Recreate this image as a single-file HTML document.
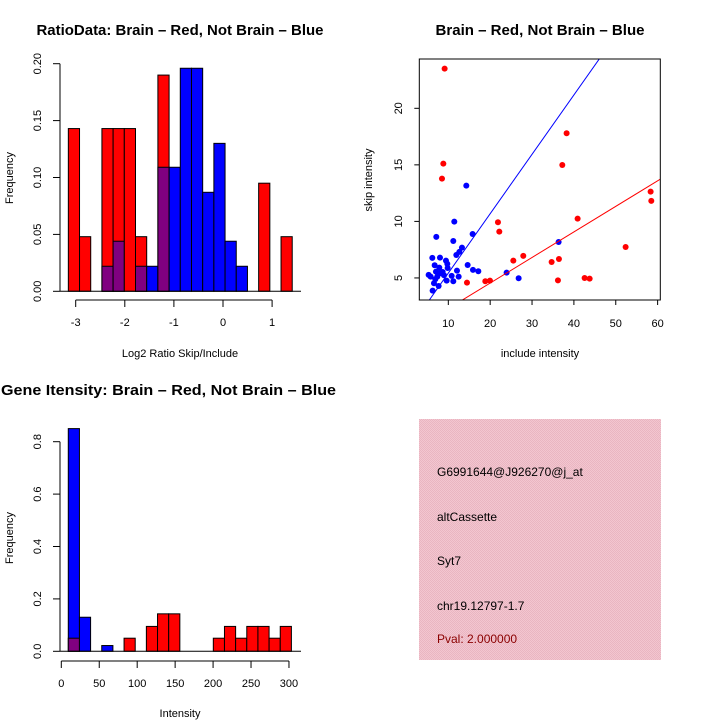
<!DOCTYPE html>
<html><head><meta charset="utf-8"><style>
html,body{margin:0;padding:0;background:#fff;}
svg{display:block;font-family:"Liberation Sans",sans-serif;}
</style></head><body>
<svg id="c" width="720" height="720" viewBox="0 0 720 720">
<defs>
<pattern id="hatch" width="2" height="2" patternUnits="userSpaceOnUse">
<rect width="2" height="2" fill="#f3c6d0"/><rect width="1" height="1" fill="#e9b5c1"/><rect x="1" y="1" width="1" height="1" fill="#e9b5c1"/>
</pattern>
</defs>
<g id="p1"></g>
<g id="p2"></g>
<g id="p3"></g>
<g id="p4">
<rect x="419" y="419" width="242" height="241" fill="url(#hatch)"/>
<text x="437" y="476" font-size="12">G6991644@J926270@j_at</text>
<text x="437" y="521" font-size="12">altCassette</text>
<text x="437" y="565" font-size="12">Syt7</text>
<text x="437" y="610" font-size="12">chr19.12797-1.7</text>
<text x="437" y="643" font-size="12" fill="#8b0000">Pval: 2.000000</text>
</g>
</svg>
<script>
// ---- Histogram 1 data (Log2 ratio) ----
const ratioBinStart = -3.15;
const ratioBinWidth = 0.228;
const ratioRed  = [0.143,0.048,0,0.143,0.143,0.143,0.048,0,0.190,0,0,0,0,0,0,0,0,0.095,0,0.048];
const ratioBlue = [0,0,0,0.022,0.044,0,0.022,0.022,0.109,0.109,0.196,0.196,0.087,0.130,0.044,0.022,0,0,0,0];
const ratioXTicks = [-3,-2,-1,0,1];
const ratioYTicks = [0,0.05,0.10,0.15,0.20];
const ratioYLabels = ["0.00","0.05","0.10","0.15","0.20"];
// ---- Scatter data ----
const redX = [9.12,8.81,8.49,38.26,37.23,21.86,22.18,40.89,58.33,58.49,52.36,36.43,34.68,27.91,25.53,14.46,18.84,19.95,36.19,42.56,43.76];
const redY = [23.51,15.11,13.78,17.79,14.99,9.92,9.10,10.25,12.63,11.81,7.74,6.68,6.41,6.95,6.53,4.59,4.71,4.76,4.79,5.0,4.94];
const blueX = [14.30,11.43,15.81,7.13,11.19,13.26,12.63,11.91,6.18,8.01,9.44,9.76,6.74,14.62,7.85,9.84,15.89,17.17,36.35,12.07,23.93,26.80,5.30,5.78,8.65,8.96,10.80,12.47,11.19,9.60,6.89,6.58,7.69,6.26,7.05,8.01,7.37];
const blueY = [13.16,9.98,8.89,8.63,8.27,7.68,7.30,7.03,6.77,6.80,6.53,6.24,6.12,6.15,5.91,5.88,5.71,5.59,8.18,5.65,5.47,4.97,5.27,5.12,5.53,5.24,5.18,5.12,4.71,4.76,4.88,4.53,4.29,3.88,5.56,5.41,5.12];
const blueSlope = 0.525, blueIntercept = 0.18;
const redSlope = 0.226, redIntercept = 0.03;
const scXTicks = [10,20,30,40,50,60];
const scYTicks = [5,10,15,20];
// ---- Histogram 3 data (Intensity) ----
const intBinStart = 9.2;
const intBinWidth = 14.7;
const intRed  = [0.05,0,0,0,0,0.05,0,0.095,0.143,0.143,0,0,0,0.05,0.095,0.05,0.095,0.095,0.05,0.095];
const intBlue = [0.85,0.13,0,0.022,0,0,0,0,0,0,0,0,0,0,0,0,0,0,0,0];
const intXTicks = [0,50,100,150,200,250,300];
const intYTicks = [0,0.2,0.4,0.6,0.8];
const intYLabels = ["0.0","0.2","0.4","0.6","0.8"];

const NS="http://www.w3.org/2000/svg";
function mk(parent,tag,attrs,txt){const e=document.createElementNS(NS,tag);for(const k in attrs)e.setAttribute(k,attrs[k]);if(txt!==undefined)e.textContent=txt;parent.appendChild(e);return e;}

function hist(g,o){
  const sx=v=>o.x0px+(v-o.x0)*o.kx, sy=v=>o.y0px-v*o.ky;
  for(let i=0;i<o.red.length;i++){
    const l=sx(o.start+i*o.width), w=o.width*o.kx, r=o.red[i], b=o.blue[i];
    const mx=Math.max(r,b), mn=Math.min(r,b);
    if(mx<=0) continue;
    const top=mk(g,'rect',{x:l,y:sy(mx),width:w,height:sy(0)-sy(mx),fill:r>=b?'#ff0000':'#0000ff',stroke:'#000','stroke-width':1});
    
    
    if(mn>0){
      const p=mk(g,'rect',{x:l,y:sy(mn),width:w,height:sy(0)-sy(mn),fill:'#800080',stroke:'#000','stroke-width':1});
      
      
    }
  }
  mk(g,'line',{x1:60,x2:301,y1:sy(0),y2:sy(0),stroke:'#000'});
  const ya=mk(g,'g',{});
  
  
  mk(ya,'line',{x1:60,x2:60,y1:sy(o.yt[0]),y2:sy(o.yt[o.yt.length-1]),stroke:'#000'});
  o.yt.forEach((v,i)=>{mk(ya,'line',{x1:53,x2:60,y1:sy(v),y2:sy(v),stroke:'#000'});
    mk(ya,'text',{x:0,y:0,'font-size':11,'text-anchor':'middle',transform:`translate(41,${sy(v)}) rotate(-90)`},o.yl[i]);});
  const xa=mk(g,'g',{});
  
  
  const ay=o.axisY;
  mk(xa,'line',{x1:sx(o.xt[0]),x2:sx(o.xt[o.xt.length-1]),y1:ay,y2:ay,stroke:'#000'});
  o.xt.forEach(v=>{mk(xa,'line',{x1:sx(v),x2:sx(v),y1:ay,y2:ay+7,stroke:'#000'});
    mk(xa,'text',{x:sx(v),y:ay+26,'font-size':11,'text-anchor':'middle'},String(v));});
  const xt=mk(g,'text',{x:180,y:o.xlabY,'font-size':11,'text-anchor':'middle'},o.xlab);
  
  
  const yt=mk(g,'text',{x:0,y:0,'font-size':11,'text-anchor':'middle',transform:`translate(13,${o.ylabC}) rotate(-90)`},'Frequency');
  
  
  const tt=mk(g,'text',{x:o.titleX,y:o.titleY,'font-size':15,'font-weight':'bold','text-anchor':o.anchor,textLength:o.titleLen,lengthAdjust:'spacingAndGlyphs'},o.title);
  
  
}
hist(document.getElementById('p1'),{x0:-3,x0px:75.7,kx:49.1,y0px:291.3,ky:1138,start:ratioBinStart,width:ratioBinWidth,red:ratioRed,blue:ratioBlue,xt:ratioXTicks,yt:ratioYTicks,yl:ratioYLabels,axisY:300,xlab:'Log2 Ratio Skip/Include',xlabY:357,ylabC:178,title:'RatioData: Brain \u2013 Red, Not Brain \u2013 Blue',titleX:180,titleY:35,anchor:'middle',titleLen:287});
hist(document.getElementById('p3'),{x0:0,x0px:61.3,kx:0.7589,y0px:651.3,ky:262,start:intBinStart,width:intBinWidth,red:intRed,blue:intBlue,xt:intXTicks,yt:intYTicks,yl:intYLabels,axisY:661,xlab:'Intensity',xlabY:717,ylabC:538,title:'Gene Itensity: Brain \u2013 Red, Not Brain \u2013 Blue',titleX:1,titleY:395,anchor:'start',titleLen:335});

(function(){
  const g=document.getElementById('p2');
  const xmin=3.07,xmax=60.64,ymin=3.05,ymax=24.36, L=419.3,R=660.3,T=59,B=300;
  const sx=v=>L+(v-xmin)/(xmax-xmin)*(R-L), sy=v=>B-(v-ymin)/(ymax-ymin)*(B-T);
  const cp=mk(g,'clipPath',{id:'scclip'}); mk(cp,'rect',{x:L,y:T,width:R-L,height:B-T});
  function line(s,b,col,name){
    const l=mk(g,'line',{x1:sx(xmin),y1:sy(b+s*xmin),x2:sx(xmax),y2:sy(b+s*xmax),stroke:col,'stroke-width':1,'clip-path':'url(#scclip)'});
    
    
  }
  for(let i=0;i<redX.length;i++){const c=mk(g,'circle',{cx:sx(redX[i]),cy:sy(redY[i]),r:3,fill:'#ff0000'});
    
    }
  for(let i=0;i<blueX.length;i++){const c=mk(g,'circle',{cx:sx(blueX[i]),cy:sy(blueY[i]),r:3,fill:'#0000ff'});
    
    }
  line(blueSlope,blueIntercept,'#0000ff','blue-fit-line');
  line(redSlope,redIntercept,'#ff0000','red-fit-line');
  mk(g,'rect',{x:L,y:T,width:R-L,height:B-T,fill:'none',stroke:'#000'});
  scXTicks.forEach(v=>{mk(g,'line',{x1:sx(v),x2:sx(v),y1:B,y2:B+5,stroke:'#000'});
    mk(g,'text',{x:sx(v),y:327,'font-size':11,'text-anchor':'middle'},String(v));});
  scYTicks.forEach(v=>{mk(g,'line',{x1:L-5,x2:L,y1:sy(v),y2:sy(v),stroke:'#000'});
    mk(g,'text',{x:0,y:0,'font-size':11,'text-anchor':'middle',transform:`translate(402,${sy(v)}) rotate(-90)`},String(v));});
  const xt=mk(g,'text',{x:540,y:357,'font-size':11,'text-anchor':'middle'},'include intensity');
  
  
  const yt=mk(g,'text',{x:0,y:0,'font-size':11,'text-anchor':'middle',transform:'translate(372,180) rotate(-90)'},'skip intensity');
  
  
  const tt=mk(g,'text',{x:540,y:35,'font-size':15,'font-weight':'bold','text-anchor':'middle',textLength:209,lengthAdjust:'spacingAndGlyphs'},'Brain \u2013 Red, Not Brain \u2013 Blue');
  
  
})();
</script>
</body></html>
